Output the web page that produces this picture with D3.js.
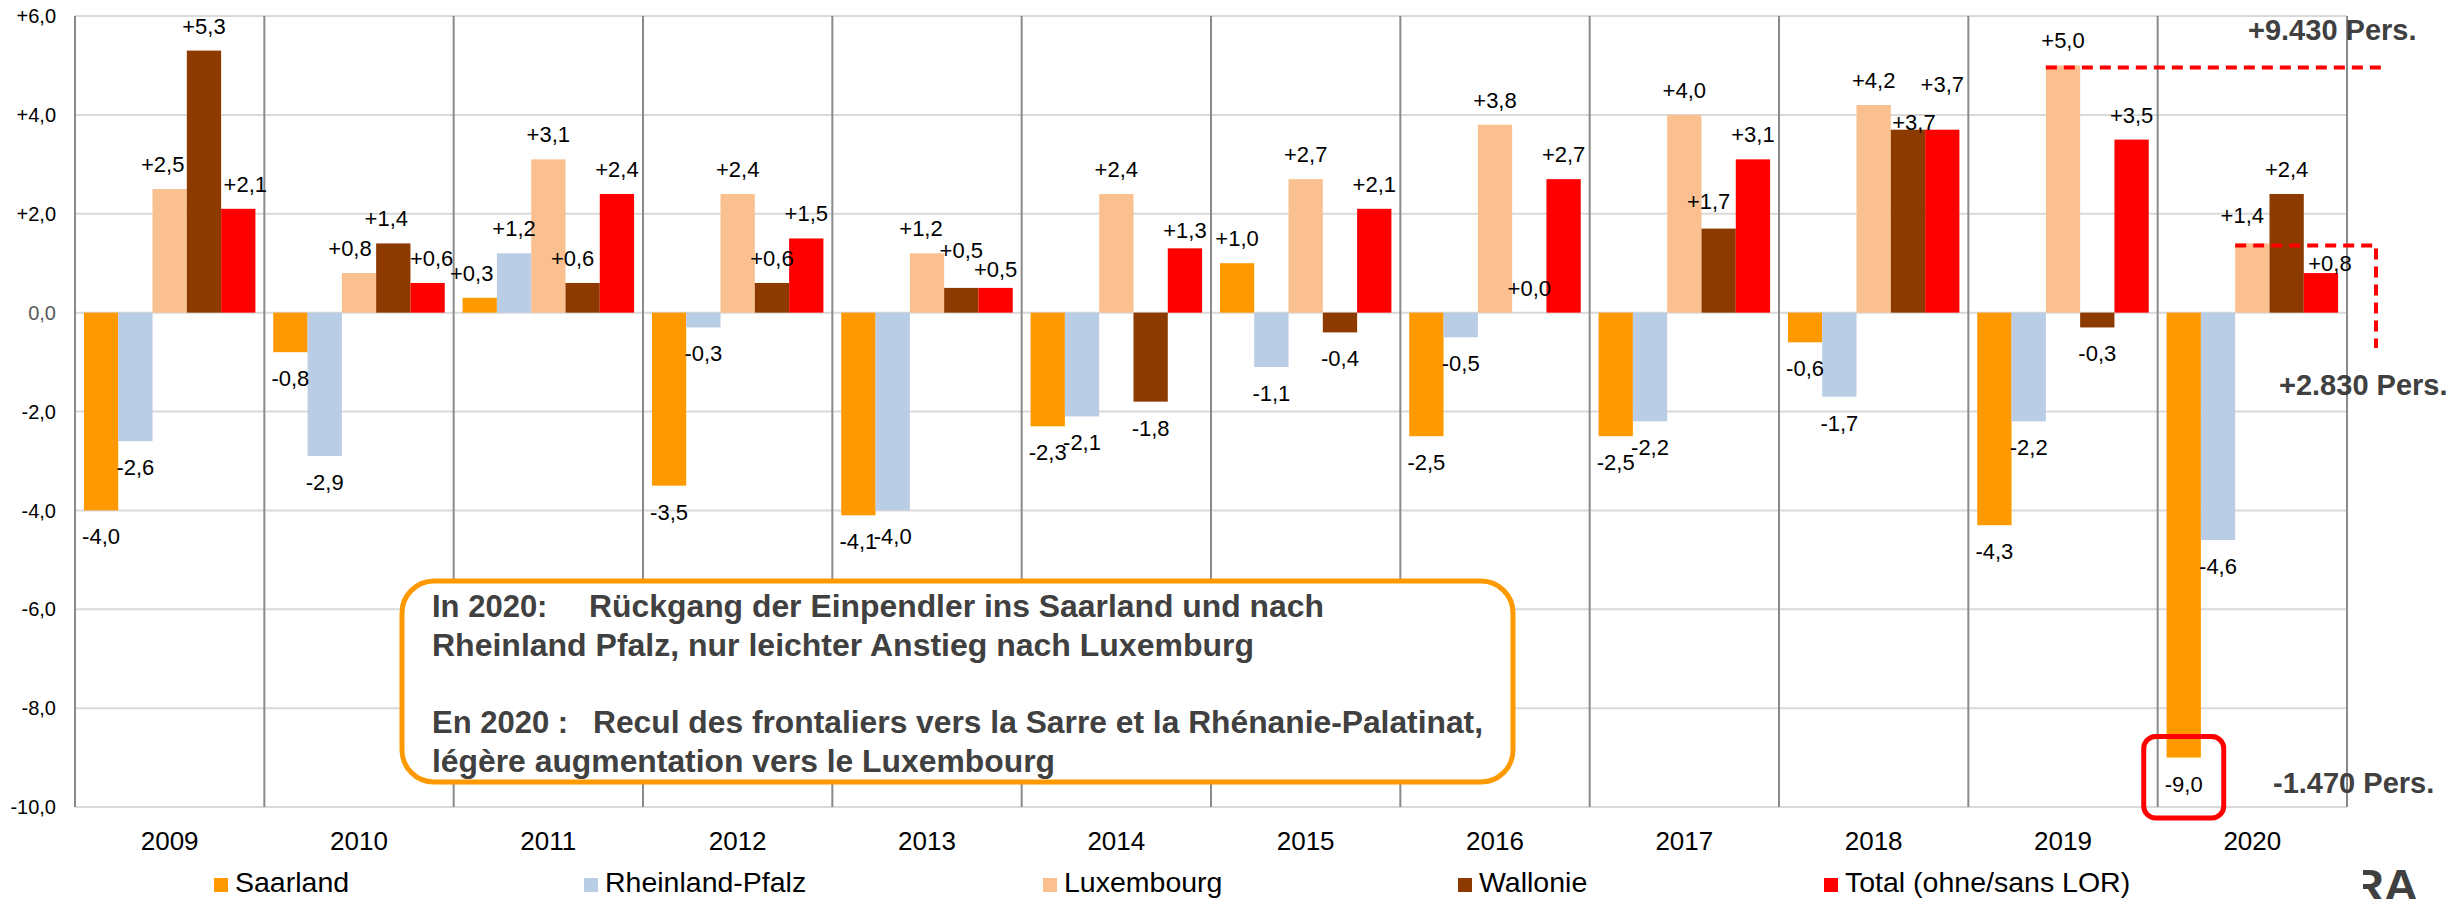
<!DOCTYPE html>
<html>
<head>
<meta charset="utf-8">
<script src="https://cdn.jsdelivr.net/npm/d3@7"></script>
<style>
  html, body { margin: 0; padding: 0; background: #fff; }
  svg { display: block; font-family: "Liberation Sans", Arial, sans-serif; }
</style>
</head>
<body>
<svg id="chart" width="2463" height="899"></svg>
<script>
(function () {
// ---------- DATA ----------
const years = ["2009","2010","2011","2012","2013","2014","2015","2016","2017","2018","2019","2020"];
const seriesNames = ["Saarland","Rheinland-Pfalz","Luxembourg","Wallonie","Total (ohne/sans LOR)"];
const saarland   = [-4.0,-0.8, 0.3,-3.5,-4.1,-2.3, 1.0,-2.5,-2.5,-0.6,-4.3,-9.0];
const rheinland  = [-2.6,-2.9, 1.2,-0.3,-4.0,-2.1,-1.1,-0.5,-2.2,-1.7,-2.2,-4.6];
const luxembourg = [ 2.5, 0.8, 3.1, 2.4, 1.2, 2.4, 2.7, 3.8, 4.0, 4.2, 5.0, 1.4];
const wallonie   = [ 5.3, 1.4, 0.6, 0.6, 0.5,-1.8,-0.4, 0.0, 1.7, 3.7,-0.3, 2.4];
const total      = [ 2.1, 0.6, 2.4, 1.5, 0.5, 1.3, 2.1, 2.7, 3.1, 3.7, 3.5, 0.8];
const yTicks = [6,4,2,0,-2,-4,-6,-8,-10];
const yTickLabels = ["+6,0","+4,0","+2,0","0,0","-2,0","-4,0","-6,0","-8,0","-10,0"];
const noteLines = [
  ["In 2020:", "Rückgang der Einpendler ins Saarland und nach"],
  ["", "Rheinland Pfalz, nur leichter Anstieg nach Luxemburg"],
  ["", ""],
  ["En 2020 :", "Recul des frontaliers vers la Sarre et la Rhénanie-Palatinat,"],
  ["", "légère augmentation vers le Luxembourg"]
];
const sideNotes = ["+9.430 Pers.", "+2.830 Pers.", "-1.470 Pers."];

// ---------- STYLE / LAYOUT ----------
const colors = ["#FF9900","#B9CDE5","#FAC090","#8C3A00","#FF0000"];
const allSeries = [saarland, rheinland, luxembourg, wallonie, total];
// label nudges (px) keyed "year|seriesIndex" -> [dx, dy]
const labelNudge = {
  "2009|2": [-7, 0], "2009|4": [7, 0],
  "2010|2": [-9, 0], "2010|3": [-7, 0], "2010|4": [4, 0],
  "2011|0": [-8, 0], "2011|3": [-10, 0],
  "2013|2": [-6, 0], "2013|3": [0, -13], "2013|4": [0, 6],
  "2014|4": [0, 7],
  "2017|3": [-10, -3],
  "2018|3": [6, 17], "2018|4": [0, -21],
  "2020|2": [-10, -3], "2020|4": [9, 15]
};

const svg = d3.select("#chart");
const pLeft = 75, pRight = 2347, pTop = 16, pBottom = 807;

const x = d3.scaleBand().domain(years).range([pLeft, pRight]).paddingInner(0).paddingOuter(0);
const xs = d3.scaleBand().domain(seriesNames).range([0, x.bandwidth()]).paddingInner(0).paddingOuter(0.26);
const y = d3.scaleLinear().domain([-10, 6]).range([pBottom, pTop]);

const fmt = v => (v >= 0 ? "+" : "") + v.toFixed(1).replace(".", ",");

// gridlines
svg.append("g").selectAll("line").data(yTicks).join("line")
  .attr("x1", pLeft).attr("x2", pRight)
  .attr("y1", d => y(d)).attr("y2", d => y(d))
  .attr("stroke", "#d9d9d9").attr("stroke-width", 2);

// vertical separators
const seps = years.map(d => x(d)).concat([pRight]);
svg.append("g").selectAll("line").data(seps).join("line")
  .attr("x1", d => d).attr("x2", d => d)
  .attr("y1", pTop).attr("y2", pBottom)
  .attr("stroke", "#8a8a8a").attr("stroke-width", 2);

// y tick labels
svg.append("g").selectAll("text").data(yTicks).join("text")
  .attr("x", 56).attr("y", d => y(d))
  .attr("dy", "0.36em")
  .attr("text-anchor", "end")
  .attr("font-size", 20)
  .attr("fill", d => d === 0 ? "#595959" : "#000")
  .text((d, i) => yTickLabels[i]);

// bars
const flat = [];
allSeries.forEach((arr, si) => arr.forEach((v, yi) => flat.push({ year: years[yi], s: seriesNames[si], si, v })));

svg.append("g").selectAll("rect").data(flat).join("rect")
  .attr("x", d => x(d.year) + xs(d.s))
  .attr("width", xs.bandwidth())
  .attr("y", d => y(Math.max(0, d.v)))
  .attr("height", d => Math.abs(y(d.v) - y(0)))
  .attr("fill", d => colors[d.si]);

// data labels
const nud = d => labelNudge[d.year + "|" + d.si] || [0, 0];
svg.append("g").selectAll("text").data(flat).join("text")
  .attr("x", d => x(d.year) + xs(d.s) + xs.bandwidth() / 2 + nud(d)[0])
  .attr("y", d => (d.v >= 0 ? y(d.v) - 17 : y(d.v) + 34) + nud(d)[1])
  .attr("text-anchor", "middle")
  .attr("font-size", 22)
  .attr("fill", "#000")
  .text(d => fmt(d.v));

// year labels
svg.append("g").selectAll("text").data(years).join("text")
  .attr("x", d => x(d) + x.bandwidth() / 2)
  .attr("y", 850)
  .attr("text-anchor", "middle")
  .attr("font-size", 26)
  .attr("fill", "#000")
  .text(d => d);

// legend
const legendX = [214, 584, 1043, 1458, 1824];
const lg = svg.append("g").selectAll("g").data(seriesNames).join("g")
  .attr("transform", (d, i) => `translate(${legendX[i]},878)`);
lg.append("rect").attr("width", 14).attr("height", 14).attr("fill", (d, i) => colors[i]);
lg.append("text").attr("x", 21).attr("y", 14).attr("font-size", 28.5).attr("fill", "#000").text(d => d);

// annotation box
svg.append("rect")
  .attr("x", 402).attr("y", 581).attr("width", 1111).attr("height", 201)
  .attr("rx", 32).attr("ry", 32)
  .attr("fill", "#fff").attr("stroke", "#FF9900").attr("stroke-width", 5);
const noteBase = [617, 656, 695, 733, 772];
const noteMainX = [589, 432, 432, 593, 432];
const noteMainW = [735, 822, 0, 890, 623];
const ng = svg.append("g").attr("font-weight", "bold").attr("font-size", 31).attr("fill", "#404040");
noteLines.forEach((ln, i) => {
  if (ln[0]) ng.append("text").attr("x", 432).attr("y", noteBase[i]).text(ln[0]);
  if (ln[1]) ng.append("text").attr("x", noteMainX[i]).attr("y", noteBase[i])
    .attr("textLength", noteMainW[i]).attr("lengthAdjust", "spacingAndGlyphs").text(ln[1]);
});

// dashed red guides
const i19 = x("2019") + xs("Luxembourg");
const i20 = x("2020") + xs("Luxembourg");
svg.append("line")
  .attr("x1", i19).attr("x2", 2385)
  .attr("y1", y(luxembourg[10]) + 2).attr("y2", y(luxembourg[10]) + 2)
  .attr("stroke", "#FF0000").attr("stroke-width", 4).attr("stroke-dasharray", "11,7");
svg.append("path")
  .attr("d", `M${i20},${y(luxembourg[11]) + 2}H2376V348`)
  .attr("fill", "none")
  .attr("stroke", "#FF0000").attr("stroke-width", 4).attr("stroke-dasharray", "11,7");

// red box around -9,0
const sx = x("2020") + xs("Saarland") + xs.bandwidth() / 2;
svg.append("rect")
  .attr("x", sx - 40).attr("y", y(saarland[11]) - 21)
  .attr("width", 80).attr("height", y(-10) - y(saarland[11]) + 32)
  .attr("rx", 12).attr("ry", 12)
  .attr("fill", "none").attr("stroke", "#FF0000").attr("stroke-width", 5);

// side notes
const sideX = [2248, 2279, 2273];
const sideY = [40, 395, 793];
svg.append("g").selectAll("text").data(sideNotes).join("text")
  .attr("x", (d, i) => sideX[i]).attr("y", (d, i) => sideY[i])
  .attr("font-weight", "bold").attr("font-size", 29).attr("fill", "#404040")
  .text(d => d);

// partial logo (cut off in the source image)
svg.append("clipPath").attr("id", "logoclip")
  .append("rect").attr("x", 2363).attr("y", 860).attr("width", 100).attr("height", 39);
svg.append("text")
  .attr("x", 2350).attr("y", 901)
  .attr("clip-path", "url(#logoclip)")
  .attr("textLength", 68).attr("lengthAdjust", "spacingAndGlyphs")
  .attr("font-weight", "bold").attr("font-size", 44).attr("fill", "#404040")
  .text("RA");
})();
</script>
</body>
</html>
